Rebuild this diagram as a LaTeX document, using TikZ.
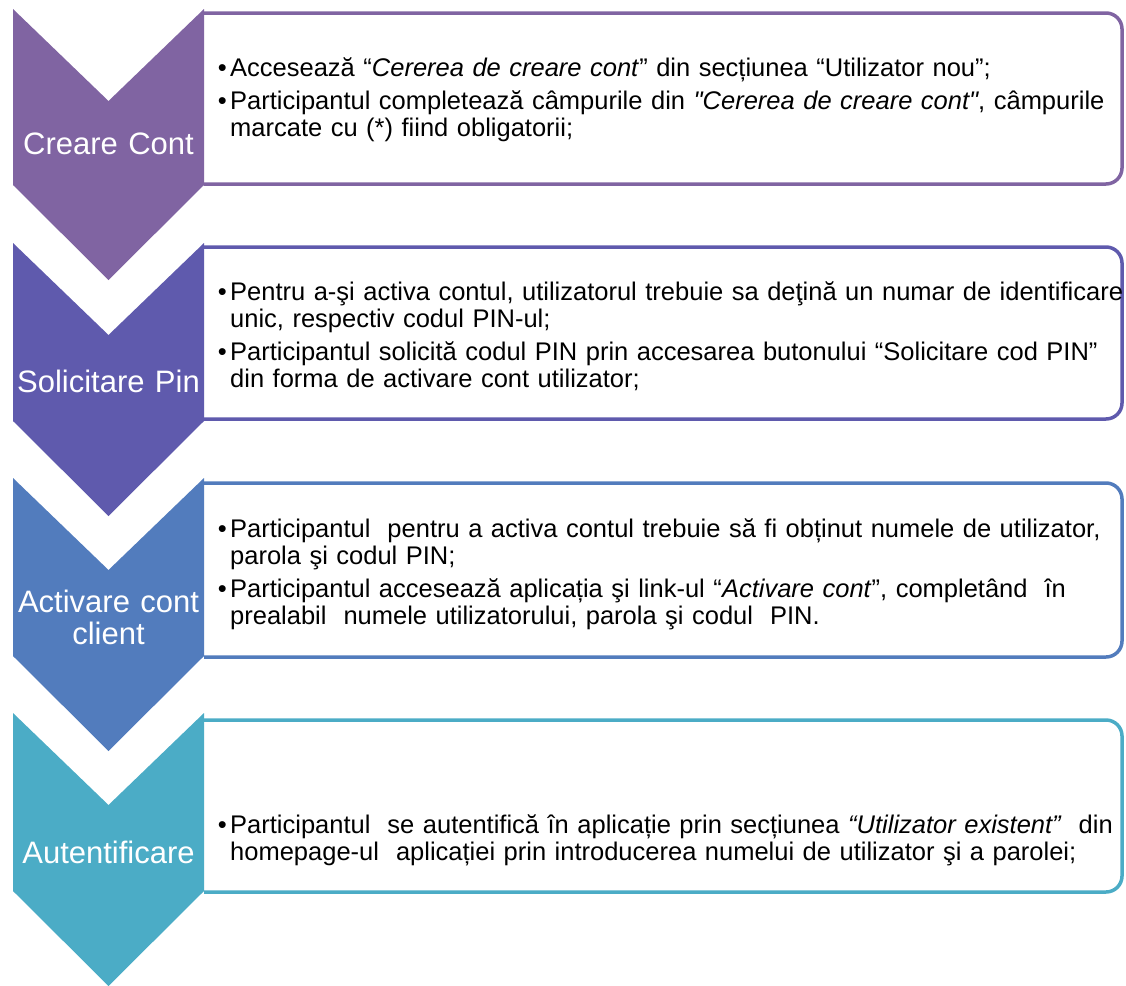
\documentclass[tikz,border=0pt]{standalone}
\usepackage{fontspec}
\setmainfont{Liberation Sans}
\definecolor{stepA}{HTML}{8064A2}
\definecolor{stepB}{HTML}{5F5AAD}
\definecolor{stepC}{HTML}{527CBD}
\definecolor{stepD}{HTML}{4BACC6}
\tikzstyle{stepbox}=[line width=3.5pt, fill=white, rounded corners=16pt]
\tikzstyle{chevtext}=[anchor=base, inner sep=0, text width=190pt, align=center, text=white, font=\fontsize{31}{32}\selectfont]
\tikzstyle{steptext}=[anchor=base west, inner sep=0, text width=950pt, align=left, font=\fontsize{25.5}{27}\selectfont]
\newcommand{\itembullet}{\leavevmode\llap{\textbullet\hspace{3.5pt}}}

\begin{document}
\begin{tikzpicture}[x=1pt, y=-1pt]

\useasboundingbox (0, 0) rectangle (1126, 985);

\draw [stepbox, draw=stepA] (204, 13) -- (1122, 13) -- (1122, 184) -- (204, 184);
\draw [stepbox, draw=stepB] (204, 247) -- (1122, 247) -- (1122, 419) -- (204, 419);
\draw [stepbox, draw=stepC] (204, 483) -- (1122, 483) -- (1122, 657) -- (204, 657);
\draw [stepbox, draw=stepD] (204, 720) -- (1122, 720) -- (1122, 892) -- (204, 892);

\fill [stepA] (13, 9) -- (108.5, 101) -- (204, 9) -- (204, 185) -- (108.5, 280) -- (13, 185) -- cycle;
\fill [stepB] (13, 243) -- (108.5, 335) -- (204, 243) -- (204, 421) -- (108.5, 516) -- (13, 421) -- cycle;
\fill [stepC] (13, 478) -- (108.5, 570) -- (204, 478) -- (204, 656) -- (108.5, 751) -- (13, 656) -- cycle;
\fill [stepD] (13, 713) -- (108.5, 805) -- (204, 713) -- (204, 891) -- (108.5, 986) -- (13, 891) -- cycle;

\node [chevtext] (creare)  at (108.5, 154) {Creare Cont};
\node [chevtext] (pin)     at (108.5, 392) {Solicitare Pin};
\node [chevtext] (activ)   at (108.5, 612) {Activare cont\\client};
\node [chevtext] (autent)  at (108.5, 863) {Autentificare};

\node [steptext] (textA) at (230, 76) {\itembullet Accesează “\textit{Cererea de creare cont}” din secțiunea “Utilizator nou”;\\[6pt]
\itembullet Participantul completează câmpurile din \textit{\textquotedbl Cererea de creare cont\textquotedbl}, câmpurile\\
marcate cu (*) fiind obligatorii;};

\node [steptext] (textB) at (230, 300) {\itembullet Pentru a-şi activa contul, utilizatorul trebuie sa deţină un numar de identificare\\
unic, respectiv codul PIN-ul;\\[6pt]
\itembullet Participantul solicită codul PIN prin accesarea butonului “Solicitare cod PIN”\\
din forma de activare cont utilizator;};

\node [steptext] (textC) at (230, 537) {\itembullet Participantul\ \ pentru a activa contul trebuie să fi obținut numele de utilizator,\\
parola şi codul PIN;\\[6pt]
\itembullet Participantul accesează aplicația şi link-ul “\textit{Activare cont}”, completând\ \ în\\
prealabil\ \ numele utilizatorului, parola şi codul\ \ PIN.};

\node [steptext] (textD) at (230, 833) {\itembullet Participantul\ \ se autentifică în aplicație prin secțiunea \textit{“Utilizator existent”}\ \ din\\
homepage-ul\ \ aplicației prin introducerea numelui de utilizator şi a parolei;};

\end{tikzpicture}
\end{document}
